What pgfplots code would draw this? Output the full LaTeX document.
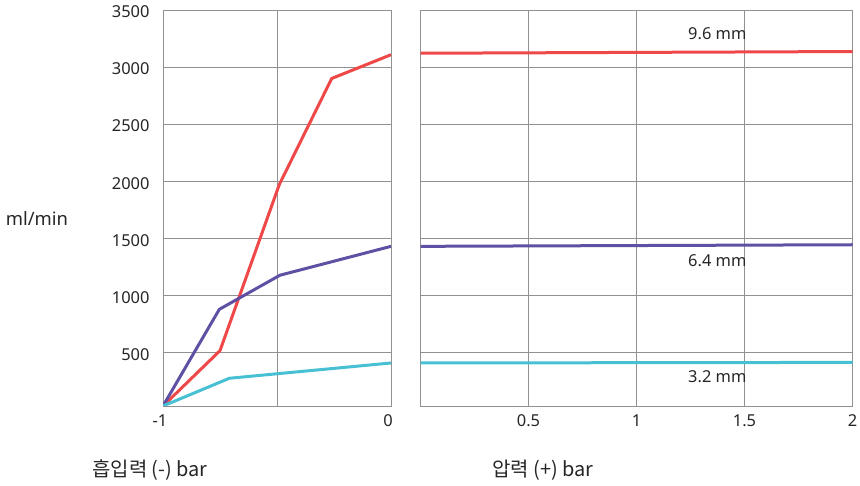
\documentclass[border=0pt]{standalone}
\usepackage{pgfplots}
\pgfplotsset{compat=1.18}
\usepackage{fontspec}
\setmainfont{Noto Sans}
\newfontfamily\kr{Noto Sans CJK KR}
\definecolor{cred}{RGB}{238,72,72}
\definecolor{cpurple}{RGB}{96,80,164}
\definecolor{ccyan}{RGB}{70,192,210}
\definecolor{cgrid}{RGB}{145,145,145}
\begin{document}
\begin{tikzpicture}
\useasboundingbox (0,0) rectangle (860bp,486bp);
\pgfplotsset{
  every axis/.append style={
    scale only axis,
    height=396bp,
    ymin=30, ymax=3500,
    ytick={500,1000,...,3500},
    grid=major,
    grid style={cgrid, line width=0.9bp},
    axis line style={cgrid, line width=0.9bp},
    major tick length=0pt,
    tick label style={font=\fontsize{16.5}{19}\selectfont, text=black!85},
    /pgf/number format/assume math mode=true,
    /pgf/number format/1000 sep={},
    every axis plot/.append style={line width=3bp, line join=round},
  }
}
\begin{axis}[
  at={(163bp,80bp)}, anchor=south west,
  width=228bp,
  xmin=-1, xmax=0,
  xtick={-1,-0.5,0},
  xticklabels={-1,,0},
  xticklabel style={xshift=-3bp, yshift=-5bp},
  yticklabel style={xshift=-10bp, yshift=-2bp},
]
\addplot[cred] coordinates {(-1,30) (-0.75,515) (-0.49,1970) (-0.26,2900) (0,3108)};
\addplot[cpurple] coordinates {(-1,30) (-0.753,877) (-0.487,1176) (0,1429)};
\addplot[ccyan] coordinates {(-1,30) (-0.709,273) (0,407)};
\end{axis}
\begin{axis}[
  at={(420.5bp,80bp)}, anchor=south west,
  width=432bp,
  xmin=0, xmax=2,
  xtick={0,0.5,1,1.5,2},
  xticklabels={,0.5,1,1.5,2},
  xticklabel style={yshift=-5bp},
  yticklabels={},
]
\addplot[cred] coordinates {(0,3121) (2,3136)};
\addplot[cpurple] coordinates {(0,1429) (2,1443)};
\addplot[ccyan] coordinates {(0,407) (2,412)};
\node[anchor=east, font=\fontsize{16.5}{19}\selectfont, text=black!85, inner sep=0pt] at (axis cs:1.51,3290) {9.6 mm};
\node[anchor=east, font=\fontsize{16.5}{19}\selectfont, text=black!85, inner sep=0pt] at (axis cs:1.51,1300) {6.4 mm};
\node[anchor=east, font=\fontsize{16.5}{19}\selectfont, text=black!85, inner sep=0pt] at (axis cs:1.51,290) {3.2 mm};
\end{axis}
\node[font=\fontsize{18.5}{22}\selectfont, text=black!85] at (37bp,268bp) {ml/min};
\node[font=\kr\fontsize{20}{24}\selectfont, text=black!85] at (150bp,16bp) {흡입력 (-) bar};
\node[font=\kr\fontsize{20}{24}\selectfont, text=black!85] at (543bp,16bp) {압력 (+) bar};
\end{tikzpicture}
\end{document}
